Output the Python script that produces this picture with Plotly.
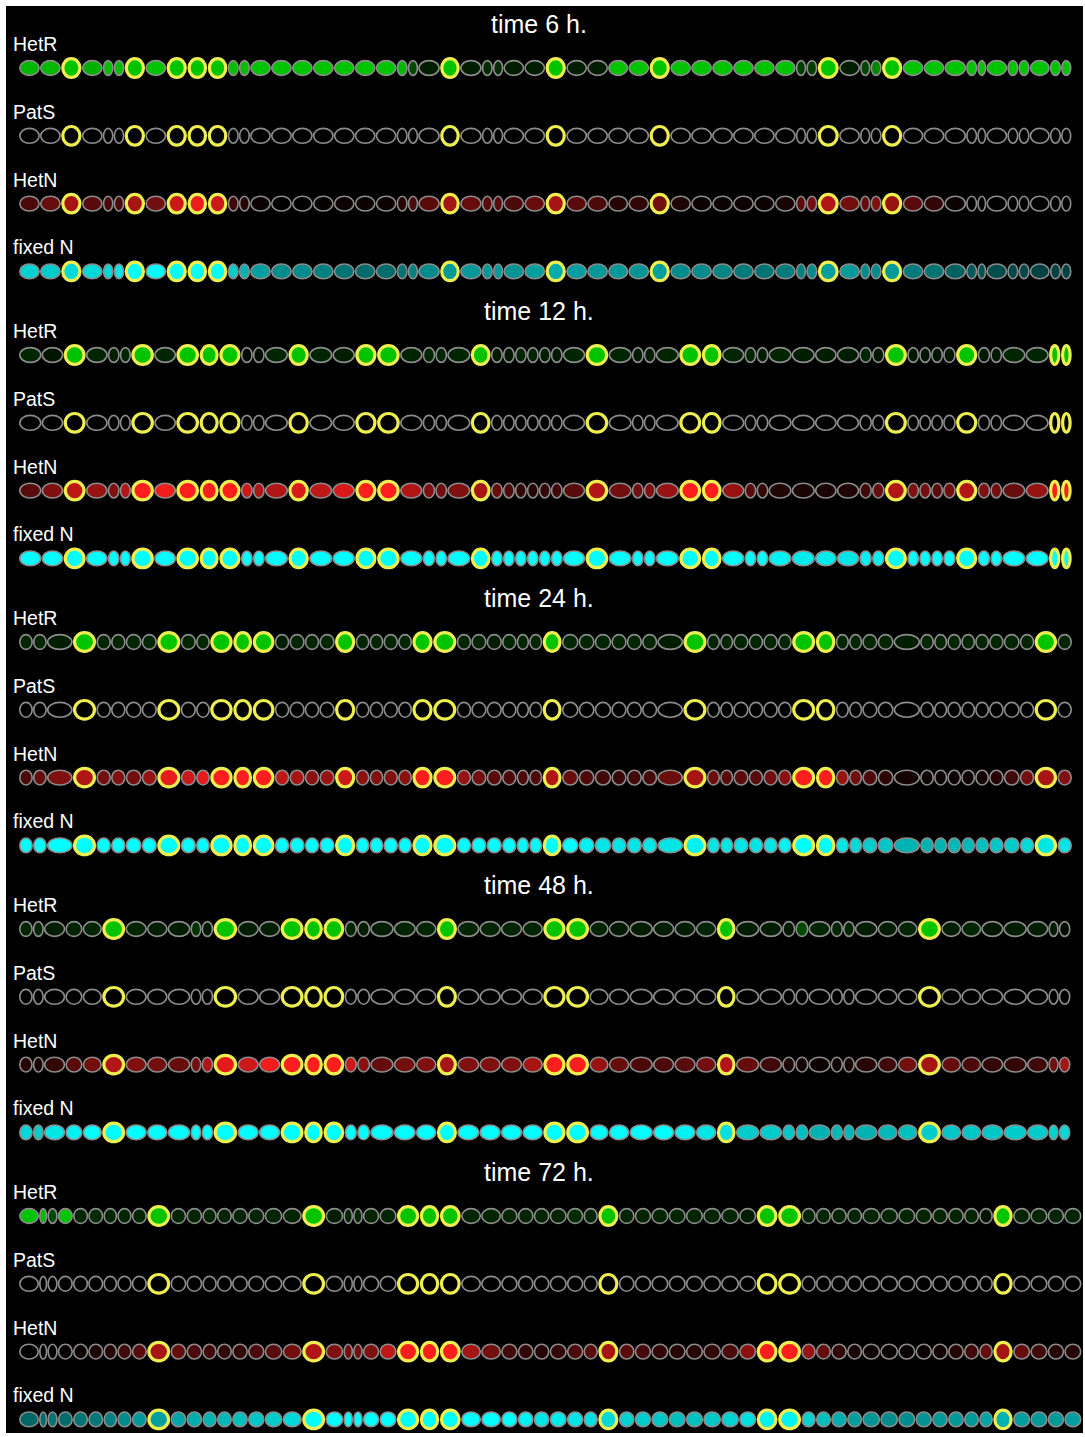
import numpy as np
import plotly.graph_objects as go

# ---------------- data ----------------
TIMES = ["time 6 h.", "time 12 h.", "time 24 h.", "time 48 h.", "time 72 h."]
ROW_NAMES = ["HetR", "PatS", "HetN", "fixed N"]

# cell lengths along the filament (arbitrary length units)
len_6h = [60, 60, 60, 60, 31, 31, 60, 60, 60, 58, 58, 32, 32, 60, 60, 60, 60, 60, 60, 60,
          32, 30, 62, 58, 62, 32, 30, 60, 60, 60, 60, 60, 58, 60, 60, 60, 60, 60, 60, 60,
          60, 30, 32, 62, 60, 30, 32, 60, 60, 60, 62, 32, 26, 60, 32, 32, 58, 32, 30]
len_12h = [64, 62, 64, 62, 34, 32, 66, 62, 66, 56, 62, 34, 34, 66, 60, 66, 64, 62, 66, 64,
           36, 34, 66, 58, 34, 34, 34, 34, 34, 34, 64, 66, 66, 34, 34, 66, 64, 58, 64, 34,
           34, 66, 66, 62, 64, 36, 36, 64, 34, 34, 34, 36, 62, 36, 34, 66, 66, 34, 32]
len_24h = [40, 40, 74, 68, 42, 42, 46, 44, 68, 44, 40, 66, 56, 64, 42, 44, 42, 44, 60, 40,
           40, 42, 40, 60, 68, 42, 44, 44, 42, 36, 38, 56, 48, 46, 48, 44, 44, 44, 74, 68,
           38, 38, 44, 42, 42, 40, 68, 58, 38, 38, 44, 46, 76, 40, 38, 40, 40, 40, 42, 46,
           42, 66, 42]
len_48h = [40, 32, 62, 50, 56, 68, 62, 60, 66, 32, 34, 70, 62, 62, 68, 56, 62, 36, 38, 68,
           64, 60, 60, 64, 62, 62, 60, 66, 68, 56, 60, 68, 62, 62, 60, 56, 68, 66, 38, 38,
           64, 36, 34, 66, 58, 58, 68, 58, 58, 64, 68, 62, 30, 34]
len_72h = [58, 24, 30, 44, 44, 44, 40, 42, 44, 68, 46, 46, 42, 44, 46, 48, 52, 56, 68, 52,
           28, 28, 48, 50, 66, 58, 62, 58, 58, 48, 46, 46, 50, 48, 42, 60, 46, 48, 50, 50,
           50, 52, 52, 50, 62, 68, 42, 44, 46, 44, 52, 52, 50, 48, 46, 46, 44, 40, 58, 50,
           50, 48, 50]

# heterocysts (1-based cell numbers)
het_6h = [3, 7, 9, 10, 11, 24, 30, 35, 44, 48]
het_12h = [3, 7, 9, 10, 11, 15, 18, 19, 24, 32, 37, 38, 48, 53, 58, 59]
het_24h = [4, 9, 12, 13, 14, 19, 24, 25, 32, 40, 47, 48, 62]
het_48h = [6, 12, 15, 16, 17, 23, 28, 29, 36, 47]
het_72h = [10, 19, 25, 26, 27, 36, 45, 46, 59]

# relative levels 0..1 per cell
hetr_6h = [.75, .75, .8, .72, .78, .78, .8, .8, .8, .8, .8, .78, .78, .8, .8, .8, .8, .8, .8, .8,
           .75, .3, .12, .8, .12, .18, .18, .12, .12, .8, .12, .12, .8, .8, .8, .8, .8, .8, .8, .8,
           .8, .25, .25, .8, .12, .28, .55, .8, .8, .8, .8, .8, .8, .8, .8, .8, .8, .8, .8]
pats_6h = [0, 0, 0, 0, 0, 0, 0, 0, 0, 0, 0, 0, 0, 0, 0, 0, 0, 0, 0, 0,
           0, 0, 0, 0, 0, 0, 0, 0, 0, 0, 0, 0, 0, 0, 0, 0, 0, 0, 0, 0,
           0, 0, 0, 0, 0, 0, 0, 0, 0, 0, 0, 0, 0, 0, 0, 0, 0, 0, 0]
hetn_6h = [.3, .4, .65, .35, .3, .3, .65, .45, .8, .92, .8, .25, .15, .05, 0, 0, .02, .05, .05, .05,
           .15, .3, .35, .65, .4, .35, .35, .3, .4, .65, .35, .3, .15, .2, .45, .12, .05, .05, .05, .05,
           .1, .35, .45, .7, .45, .4, .5, .6, .35, .2, .05, 0, 0, 0, 0, 0, 0, 0, 0]
fixn_6h = [.82, .8, .85, .85, .85, .9, 1, 1, 1, 1, 1, .8, .7, .62, .55, .55, .5, .45, .42, .42,
           .45, .5, .55, .6, .6, .6, .6, .58, .62, .68, .62, .6, .6, .58, .62, .55, .55, .52, .48, .45,
           .48, .5, .55, .62, .6, .55, .55, .6, .48, .45, .38, .35, .32, .3, .28, .28, .26, .26, .26]

hetr_12h = [.15, .08, .8, .15, .12, .15, .8, .15, .8, .8, .8, .05, .05, .15, .8, .15, .12, .8, .8, .15,
            .15, .15, .15, .8, .1, .1, .15, .15, .12, .1, .15, .8, .15, .12, .12, .15, .8, .8, .15, .15,
            .12, .15, .12, .12, .12, .15, .1, .8, .1, .08, .08, .1, .8, .1, .1, .15, .15, .8, .8]
pats_12h = [0, 0, 0, 0, 0, 0, 0, 0, 0, 0, 0, 0, 0, 0, 0, 0, 0, 0, 0, 0,
            0, 0, 0, 0, 0, 0, 0, 0, 0, 0, 0, 0, 0, 0, 0, 0, 0, 0, 0, 0,
            0, 0, 0, 0, 0, 0, 0, 0, 0, 0, 0, 0, 0, 0, 0, 0, 0, 0, 0]
hetn_12h = [.35, .5, .75, .6, .5, .7, 1, .95, 1, 1, 1, .8, .7, .7, .85, .75, .85, 1, 1, .7,
            .5, .45, .5, .65, .4, .3, .2, .15, .2, .25, .35, .7, .45, .45, .5, .6, 1, 1, .6, .35,
            .2, .12, .1, .1, .12, .25, .4, .7, .5, .45, .35, .45, .7, .5, .45, .4, .6, 1, 1]
fixn_12h = [1, 1, 1, 1, 1, 1, 1, 1, 1, 1, 1, 1, 1, 1, 1, 1, 1, 1, 1, 1,
            1, 1, 1, 1, 1, 1, 1, 1, 1, 1, 1, 1, 1, 1, 1, 1, 1, 1, 1, 1,
            1, .95, .92, .92, .9, .95, .95, 1, 1, 1, 1, 1, 1, 1, 1, 1, 1, 1, 1]

hetr_24h = [.15, .15, .12, .8, .15, .15, .15, .15, .8, .15, .15, .8, .8, .8, .12, .15, .15, .15, .8, .15,
            .15, .15, .15, .8, .8, .15, .15, .12, .15, .15, .15, .8, .15, .15, .15, .15, .15, .15, .12, .8,
            .15, .15, .15, .15, .15, .15, .8, .8, .15, .15, .15, .15, .12, .15, .15, .15, .15, .15, .15, .15,
            .15, .8, .15]
pats_24h = [0, 0, 0, 0, 0, 0, 0, 0, 0, 0, 0, 0, 0, 0, 0, 0, 0, 0, 0, 0,
            0, 0, 0, 0, 0, 0, 0, 0, 0, 0, 0, 0, 0, 0, 0, 0, 0, 0, 0, 0,
            0, 0, 0, 0, 0, 0, 0, 0, 0, 0, 0, 0, 0, 0, 0, 0, 0, 0, 0, 0,
            0, 0, 0]
hetn_24h = [.3, .4, .5, .7, .45, .5, .45, .6, .9, .8, .9, 1, 1, 1, .75, .65, .55, .6, .8, .55,
            .5, .5, .55, 1, 1, .6, .45, .35, .3, .3, .3, .7, .4, .3, .25, .22, .25, .28, .42, .65,
            .42, .35, .35, .35, .45, .55, 1, 1, .6, .45, .3, .18, .08, .05, .05, .05, .05, .08, .15, .25,
            .45, .65, .5]
fixn_24h = [1, 1, 1, 1, 1, 1, 1, 1, 1, 1, 1, 1, 1, 1, 1, 1, 1, 1, 1, 1,
            1, 1, 1, 1, 1, 1, 1, 1, 1, .98, .98, 1, 1, .95, .9, .9, .9, .9, .9, .95,
            .9, .9, .9, .9, .9, .95, 1, 1, .9, .85, .8, .78, .7, .7, .7, .72, .72, .75, .78, .8,
            .85, .9, .9]

hetr_48h = [.15, .15, .12, .15, .15, .8, .15, .12, .12, .2, .1, .8, .12, .12, .8, .8, .8, .15, .12, .12,
            .15, .15, .8, .15, .15, .15, .15, .8, .8, .15, .1, .12, .12, .12, .15, .8, .12, .12, .1, .3,
            .15, .15, .15, .12, .12, .15, .8, .12, .15, .1, .12, .12, .12, .05]
pats_48h = [0, 0, 0, 0, 0, 0, 0, 0, 0, 0, 0, 0, 0, 0, 0, 0, 0, 0, 0, 0,
            0, 0, 0, 0, 0, 0, 0, 0, 0, 0, 0, 0, 0, 0, 0, 0, 0, 0, 0, 0,
            0, 0, 0, 0, 0, 0, 0, 0, 0, 0, 0, 0, 0, 0]
hetn_48h = [.15, .1, .2, .35, .45, .7, .5, .45, .4, .45, .7, .9, .8, .95, 1, 1, 1, .8, .55, .4,
            .45, .5, .65, .5, .5, .5, .65, 1, 1, .6, .4, .3, .3, .35, .45, .7, .4, .25, .12, .08,
            .05, .05, .1, .15, .25, .45, .65, .4, .3, .2, .2, .25, .45, .65]
fixn_48h = [.85, .8, .9, .95, 1, 1, 1, 1, 1, 1, 1, 1, 1, 1, 1, 1, 1, 1, 1, 1,
            1, 1, 1, 1, 1, 1, 1, 1, 1, 1, 1, 1, 1, .95, .9, .88, .8, .8, .78, .75,
            .7, .72, .72, .7, .72, .75, .8, .78, .78, .78, .8, .8, .82, .85]

hetr_72h = [.8, .75, .3, .8, .15, .18, .15, .15, .15, .8, .15, .15, .15, .15, .15, .15, .15, .15, .8, .12,
            .15, .15, .15, .15, .8, .8, .8, .15, .15, .15, .15, .15, .15, .18, .15, .8, .15, .15, .15, .15,
            .15, .15, .15, .12, .8, .8, .15, .15, .15, .15, .15, .15, .15, .15, .15, .15, .15, .08, .8, .15,
            .15, .15, .15]
pats_72h = [0, 0, 0, 0, 0, 0, 0, 0, 0, 0, 0, 0, 0, 0, 0, 0, 0, 0, 0, 0,
            0, 0, 0, 0, 0, 0, 0, 0, 0, 0, 0, 0, 0, 0, 0, 0, 0, 0, 0, 0,
            0, 0, 0, 0, 0, 0, 0, 0, 0, 0, 0, 0, 0, 0, 0, 0, 0, 0, 0, 0,
            0, 0, 0]
hetn_72h = [0, 0, 0, .02, .05, .1, .15, .25, .35, .65, .4, .3, .25, .2, .2, .3, .35, .45, .7, .5,
            .45, .45, .5, .75, 1, 1, 1, .65, .45, .25, .2, .15, .2, .3, .35, .65, .35, .28, .2, .15,
            .15, .2, .3, .55, 1, 1, .6, .4, .2, .1, .05, .03, .03, .05, .08, .15, .25, .4, .65, .4,
            .25, .15, .15]
fixn_72h = [.4, .42, .45, .42, .45, .47, .5, .55, .6, .62, .65, .68, .7, .72, .75, .78, .8, .85, 1, 1,
            1, 1, 1, 1, 1, 1, 1, 1, 1, 1, .95, .9, .92, .9, .88, .85, .82, .8, .78, .75,
            .75, .78, .82, .88, .95, .95, .82, .75, .68, .62, .58, .55, .55, .58, .6, .6, .6, .65, .7, .62,
            .6, .6, .62]

LENGTHS = [len_6h, len_12h, len_24h, len_48h, len_72h]
HETS = [het_6h, het_12h, het_24h, het_48h, het_72h]
LEVELS = [
    [hetr_6h, pats_6h, hetn_6h, fixn_6h],
    [hetr_12h, pats_12h, hetn_12h, fixn_12h],
    [hetr_24h, pats_24h, hetn_24h, fixn_24h],
    [hetr_48h, pats_48h, hetn_48h, fixn_48h],
    [hetr_72h, pats_72h, hetn_72h, fixn_72h],
]

# ---------------- layout / style ----------------
W, H = 1085, 1437
X_START = 19.0
X_END = [1071.5, 1072.0, 1072.0, 1070.5, 1081.5]
BLOCK_STEP = 287.0
ROW_STEP = 67.8
FIRST_ROW_Y = 68.0

BASE_RGB = [(0, 245, 0), (245, 245, 0), (255, 30, 30), (0, 255, 255)]
GRAY = "rgb(140,140,140)"
YELLOW = "rgb(238,238,80)"


def fill_color(row, v):
    r, g, b = BASE_RGB[row]
    v = max(0.0, min(1.0, v))
    return f"rgb({round(r * v)},{round(g * v)},{round(b * v)})"


shapes = []
annotations = []
for bi in range(5):
    lens = np.array(LENGTHS[bi], dtype=float)
    scale = (X_END[bi] - X_START) / lens.sum()
    edges = X_START + np.concatenate([[0.0], np.cumsum(lens)]) * scale
    het_set = set(HETS[bi])
    y_title = FIRST_ROW_Y + bi * BLOCK_STEP - 44
    annotations.append(dict(x=539, y=y_title, xref="x", yref="y", text=TIMES[bi],
                            showarrow=False, xanchor="center", yanchor="middle",
                            font=dict(family="Arial, Liberation Sans", size=25, color="white")))
    for ri in range(4):
        yc = FIRST_ROW_Y + bi * BLOCK_STEP + ri * ROW_STEP
        annotations.append(dict(x=11, y=yc - 24, xref="x", yref="y", text=ROW_NAMES[ri],
                                showarrow=False, xanchor="left", yanchor="middle",
                                font=dict(family="Arial, Liberation Sans", size=19.5, color="white")))
        vals = LEVELS[bi][ri]
        for ci in range(len(lens)):
            s, e = edges[ci], edges[ci + 1]
            if (ci + 1) in het_set:
                shapes.append(dict(type="circle", xref="x", yref="y",
                                   x0=s + 1.9, x1=e - 1.9, y0=yc - 9.3, y1=yc + 9.3,
                                   fillcolor=fill_color(ri, vals[ci]),
                                   line=dict(color=YELLOW, width=3.2), layer="above"))
            else:
                shapes.append(dict(type="circle", xref="x", yref="y",
                                   x0=s + 0.8, x1=e - 0.8, y0=yc - 7.4, y1=yc + 7.4,
                                   fillcolor=fill_color(ri, vals[ci]),
                                   line=dict(color=GRAY, width=1.6), layer="above"))

fig = go.Figure()
fig.add_trace(go.Scatter(x=[None], y=[None], mode="markers", showlegend=False, hoverinfo="skip"))
fig.update_layout(
    width=W, height=H,
    margin=dict(l=6, r=2, t=6, b=4),
    paper_bgcolor="white",
    plot_bgcolor="black",
    shapes=shapes,
    annotations=annotations,
    showlegend=False,
    xaxis=dict(range=[6, 1083], visible=False, fixedrange=True),
    yaxis=dict(range=[1433, 6], visible=False, fixedrange=True),
)
fig.write_html(
    "out.html",
    config={"displayModeBar": False},
    post_script="document.body.style.margin='0px';document.body.style.overflow='hidden';",
)
